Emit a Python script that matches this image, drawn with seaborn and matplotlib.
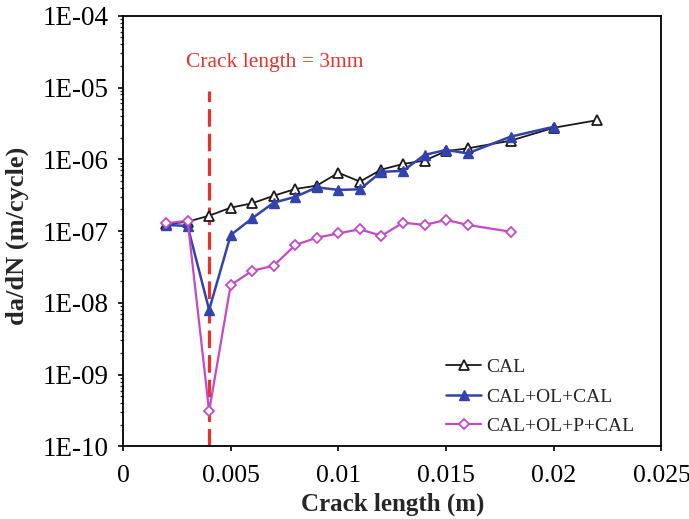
import numpy as np
import pandas as pd
import matplotlib
matplotlib.use("Agg")
import matplotlib.pyplot as plt
from matplotlib.ticker import FuncFormatter, LogLocator, NullFormatter
import seaborn as sns

# Crack growth rate vs crack length for three loading sequences
crack_cal = [0.002, 0.003, 0.004, 0.005, 0.006, 0.007, 0.008, 0.009, 0.010, 0.011,
             0.012, 0.013, 0.014, 0.015, 0.016, 0.018, 0.020, 0.022]
rate_cal = [1.25e-7, 1.35e-7, 1.64e-7, 2.12e-7, 2.44e-7, 3.11e-7, 3.86e-7, 4.3e-7, 6.5e-7, 4.9e-7,
            7.2e-7, 8.6e-7, 9.6e-7, 1.3e-6, 1.42e-6, 1.82e-6, 2.75e-6, 3.5e-6]

crack_ol = [0.002, 0.003, 0.004, 0.005, 0.006, 0.007, 0.008, 0.009, 0.010, 0.011,
            0.012, 0.013, 0.014, 0.015, 0.016, 0.018, 0.020]
rate_ol = [1.22e-7, 1.18e-7, 8.0e-9, 8.8e-8, 1.51e-7, 2.49e-7, 3.0e-7, 4.07e-7, 3.75e-7, 3.82e-7,
           6.7e-7, 6.9e-7, 1.15e-6, 1.35e-6, 1.21e-6, 2.07e-6, 2.84e-6]

crack_olp = [0.002, 0.003, 0.004, 0.005, 0.006, 0.007, 0.008, 0.009, 0.010, 0.011,
             0.012, 0.013, 0.014, 0.015, 0.016, 0.018]
rate_olp = [1.28e-7, 1.4e-7, 3.1e-10, 1.77e-8, 2.8e-8, 3.3e-8, 6.4e-8, 8.1e-8, 9.3e-8, 1.06e-7,
            8.6e-8, 1.31e-7, 1.22e-7, 1.43e-7, 1.22e-7, 9.8e-8]

series_names = ["CAL", "CAL+OL+CAL", "CAL+OL+P+CAL"]
y_ticks = [1e-10, 1e-9, 1e-8, 1e-7, 1e-6, 1e-5, 1e-4]
x_ticks = [0, 0.005, 0.01, 0.015, 0.02, 0.025]

# Overload marker position and annotation
marker_crack = 0.004
marker_label = "Crack length = 3mm"

sns.set_style("ticks")
serif = ["Liberation Serif", "DejaVu Serif"]
plt.rcParams["font.family"] = serif

fig = plt.figure(figsize=(6.89, 5.19), dpi=100)
ax = fig.add_axes([0.1785, 0.1397, 0.7815, 0.83])

styles = [
    dict(color="#1a1a1a", marker="^", markerfacecolor="white", markeredgecolor="#1a1a1a",
         markersize=7.5, markeredgewidth=1.3, linewidth=1.3),
    dict(color="#3343AE", marker="^", markerfacecolor="#3343AE", markeredgecolor="#3343AE",
         markersize=7.5, markeredgewidth=1.0, linewidth=1.8),
    dict(color="#C54AC8", marker="D", markerfacecolor="white", markeredgecolor="#C54AC8",
         markersize=5.5, markeredgewidth=1.3, linewidth=1.6),
]
data = [(crack_cal, rate_cal), (crack_ol, rate_ol), (crack_olp, rate_olp)]

for name, (xs, ys), st in zip(series_names, data, styles):
    df = pd.DataFrame({"crack": xs, "rate": ys})
    sns.lineplot(data=df, x="crack", y="rate", ax=ax, label=name,
                 estimator=None, sort=False, **st)

ax.set_yscale("log")
ax.set_ylim(y_ticks[0], y_ticks[-1])
ax.set_xlim(x_ticks[0], x_ticks[-1])
ax.set_xticks(x_ticks)
ax.xaxis.set_major_formatter(FuncFormatter(lambda v, p: "0" if v == 0 else f"{v:g}"))
ax.set_yticks(y_ticks)
ax.yaxis.set_major_formatter(FuncFormatter(lambda v, p: "1E-%02d" % round(-np.log10(v))))
ax.yaxis.set_minor_locator(LogLocator(base=10, subs=np.arange(2, 10)))
ax.yaxis.set_minor_formatter(NullFormatter())

# Dashed vertical marker at the overload position
ax.plot([marker_crack, marker_crack], [1e-10, 9e-6], color="#E8322B", linewidth=2.3,
        linestyle=(0, (5.5, 2.2)), zorder=1)
ax.text(0.00706, 2.26e-5, marker_label, color="#E8322B", fontsize=15.5,
        ha="center", va="center")

for side in ["top", "right", "left", "bottom"]:
    ax.spines[side].set_visible(True)
    ax.spines[side].set_linewidth(1.3)
    ax.spines[side].set_color("black")

ax.tick_params(axis="both", which="major", direction="out", length=3.5, width=1.2,
               colors="black", top=False, right=False)
ax.tick_params(axis="y", which="major", labelsize=19.5, pad=7)
ax.tick_params(axis="x", which="major", labelsize=18.5, pad=10)
ax.tick_params(axis="y", which="minor", direction="out", length=2.5, width=0.9,
               right=False)

ax.set_xlabel("Crack length (m)", fontsize=18, fontweight="bold")
ax.set_ylabel("da/dN (m/cycle)", fontsize=19, fontweight="bold")
ax.xaxis.set_label_coords(0.5, -0.108)
ax.yaxis.set_label_coords(-0.175, 0.49)

leg = ax.legend(loc="lower right", bbox_to_anchor=(0.964, 0.008), frameon=False,
                fontsize=14, handlelength=1.8, handletextpad=0.25, labelspacing=0.62,
                borderaxespad=0.0)

fig.savefig("out.png", dpi=100)
